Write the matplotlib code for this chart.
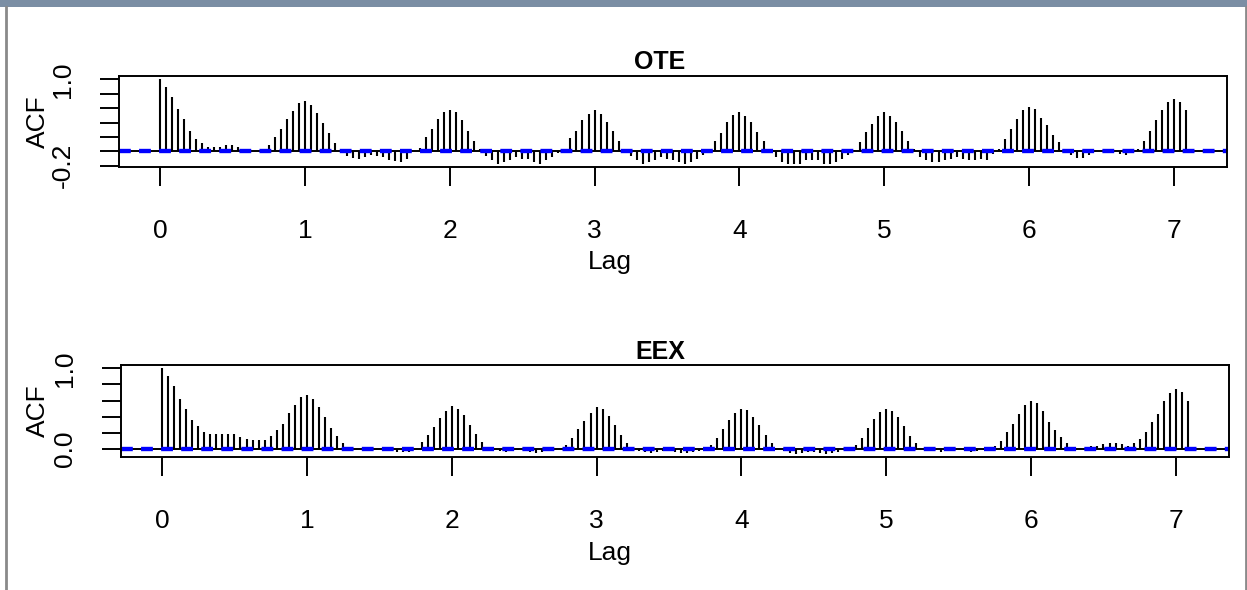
import matplotlib
matplotlib.use("Agg")
import matplotlib.pyplot as plt
import numpy as np
from matplotlib.patches import Rectangle
from matplotlib.lines import Line2D

plt.rcParams['font.family'] = ['Liberation Sans', 'DejaVu Sans']

# ---------------- data ----------------
freq = 24  # lags per day
ote_acf = [
    1.0, 0.894, 0.756, 0.585, 0.447, 0.286, 0.17, 0.115, 0.055, 0.055, 0.055, 0.09,
    0.09, 0.055, 0.03, 0.0, 0.01, 0.03, 0.09, 0.2, 0.31, 0.447, 0.56, 0.67,
    0.70, 0.65, 0.53, 0.40, 0.26, 0.12, -0.01, -0.06, -0.09, -0.1, -0.08, -0.05,
    -0.06, -0.08, -0.12, -0.13, -0.15, -0.1, 0.0, 0.05, 0.2, 0.31, 0.45, 0.55,
    0.57, 0.55, 0.43, 0.29, 0.15, 0.04, -0.06, -0.125, -0.17, -0.15, -0.125, -0.08,
    -0.1, -0.1, -0.15, -0.17, -0.125, -0.08, -0.02, 0.04, 0.18, 0.29, 0.43, 0.52,
    0.57, 0.52, 0.41, 0.29, 0.15, 0.04, -0.06, -0.125, -0.17, -0.15, -0.125, -0.08,
    -0.1, -0.125, -0.15, -0.17, -0.15, -0.1, -0.05, 0.02, 0.15, 0.26, 0.41, 0.5,
    0.54, 0.49, 0.41, 0.27, 0.15, 0.01, -0.08, -0.15, -0.17, -0.17, -0.17, -0.125,
    -0.125, -0.125, -0.17, -0.17, -0.15, -0.1, -0.056, 0.02, 0.13, 0.27, 0.38, 0.49,
    0.55, 0.49, 0.41, 0.29, 0.15, 0.03, -0.08, -0.125, -0.15, -0.15, -0.125, -0.1,
    -0.08, -0.1, -0.125, -0.125, -0.1, -0.125, -0.03, 0.03, 0.17, 0.31, 0.45, 0.57,
    0.62, 0.59, 0.47, 0.36, 0.23, 0.13, 0.01, -0.056, -0.088, -0.088, -0.056, -0.01,
    0.0, -0.02, -0.01, -0.03, -0.056, 0.0, 0.03, 0.15, 0.29, 0.43, 0.57, 0.68,
    0.73, 0.68, 0.57,
]
eex_acf = [
    1.0, 0.91, 0.78, 0.62, 0.49, 0.36, 0.285, 0.205, 0.18, 0.18, 0.18, 0.18,
    0.18, 0.15, 0.127, 0.105, 0.105, 0.105, 0.155, 0.235, 0.31, 0.44, 0.545, 0.65,
    0.672, 0.625, 0.523, 0.39, 0.255, 0.155, 0.075, 0.0, 0.0, -0.005, 0.0, 0.01,
    0.0, -0.01, 0.0, -0.04, -0.04, -0.04, 0.0, 0.08, 0.17, 0.27, 0.38, 0.47,
    0.53, 0.5, 0.42, 0.3, 0.18, 0.08, 0.02, -0.02, -0.03, -0.04, -0.03, -0.02,
    -0.03, -0.04, -0.05, -0.04, -0.03, -0.02, 0.0, 0.05, 0.14, 0.24, 0.35, 0.45,
    0.52, 0.49, 0.41, 0.3, 0.17, 0.07, 0.0, -0.03, -0.04, -0.05, -0.04, -0.03,
    -0.03, -0.04, -0.05, -0.05, -0.04, -0.03, 0.0, 0.05, 0.14, 0.25, 0.36, 0.45,
    0.5, 0.48, 0.4, 0.29, 0.17, 0.07, 0.0, -0.03, -0.05, -0.06, -0.05, -0.04,
    -0.04, -0.05, -0.06, -0.05, -0.04, -0.02, 0.0, 0.05, 0.14, 0.26, 0.37, 0.46,
    0.5, 0.47, 0.39, 0.28, 0.16, 0.07, 0.0, -0.02, -0.03, -0.04, -0.03, -0.02,
    -0.02, -0.03, -0.04, -0.03, -0.02, 0.0, 0.03, 0.1, 0.207, 0.306, 0.435, 0.54,
    0.59, 0.565, 0.466, 0.33, 0.228, 0.15, 0.07, 0.02, 0.0, 0.0, 0.04, 0.04,
    0.056, 0.07, 0.07, 0.056, 0.04, 0.07, 0.125, 0.207, 0.33, 0.435, 0.59, 0.694,
    0.746, 0.703, 0.595,
]
ci = 0.015  # confidence bound (blue dashed)
titles = ["OTE", "EEX"]
x_ticks = [0, 1, 2, 3, 4, 5, 6, 7]
y_ticks_ote = [-0.2, 0.0, 0.2, 0.4, 0.6, 0.8, 1.0]
y_labels_ote = ["-0.2", "", "", "", "", "", "1.0"]
y_ticks_eex = [0.0, 0.2, 0.4, 0.6, 0.8, 1.0]
y_labels_eex = ["0.0", "", "", "", "", "1.0"]

W, H = 1247, 590
fig = plt.figure(figsize=(W / 100, H / 100), dpi=100)

def fx(px):
    return px / W

def fy(py):
    return 1 - py / H

# window frame (screenshot chrome)
fig.patches.append(Rectangle((0, fy(7)), 1, 7 / H, transform=fig.transFigure,
                             facecolor='#7b8ea4', edgecolor='none', zorder=0))
fig.lines.append(Line2D([fx(5.5), fx(5.5)], [0, fy(7)], transform=fig.transFigure,
                        color='#8a8a8a', lw=2))
fig.lines.append(Line2D([fx(1245.5), fx(1245.5)], [0, fy(7)], transform=fig.transFigure,
                        color='#8a8a8a', lw=2))

panels = [
    dict(data=ote_acf, title=titles[0], box=(119, 76, 1227, 167),
         yt=y_ticks_ote, yl=y_labels_ote, title_y=62, lag_y=262),
    dict(data=eex_acf, title=titles[1], box=(121, 365, 1229, 457),
         yt=y_ticks_eex, yl=y_labels_eex, title_y=352, lag_y=553),
]

fs = 19
for p in panels:
    l, t, r, b = p['box']
    ax = fig.add_axes([fx(l), fy(b), fx(r) - fx(l), fy(t) - fy(b)])
    vals = np.array(p['data'])
    lags = np.arange(len(vals)) / freq
    ax.vlines(lags, 0, vals, color='black', lw=1.5)
    ax.axhline(0, color='black', lw=1.4)
    for c in (ci, -ci):
        ax.axhline(c, color='#0000ff', lw=1.7, ls=(0, (5, 3.5)))
    lo = min(vals.min(), -ci)
    hi = max(vals.max(), ci)
    ext = 0.04 * (hi - lo)
    ax.set_ylim(lo - ext, hi + ext)
    xext = 0.04 * lags[-1]
    ax.set_xlim(-xext, lags[-1] + xext)
    for s in ax.spines.values():
        s.set_linewidth(1.4)
    ax.set_xticks(x_ticks)
    ax.set_xticklabels([str(v) for v in x_ticks], fontsize=fs)
    ax.set_yticks(p['yt'])
    ax.set_yticklabels(p['yl'], fontsize=fs, rotation=90, va='center')
    ax.tick_params(axis='both', length=13.5, width=1.4, color='black')
    ax.tick_params(axis='x', pad=24)
    ax.tick_params(axis='y', pad=18)
    fig.text(fx(660), fy(p['title_y']), p['title'], fontsize=18, fontweight='bold',
             ha='center', va='center')
    fig.text(fx(610), fy(p['lag_y']), "Lag", fontsize=fs, ha='center', va='center')
    fig.text(fx(38), fy((t + b) / 2), "ACF", fontsize=fs, rotation=90,
             ha='center', va='center')

fig.savefig("out.png", dpi=100)
